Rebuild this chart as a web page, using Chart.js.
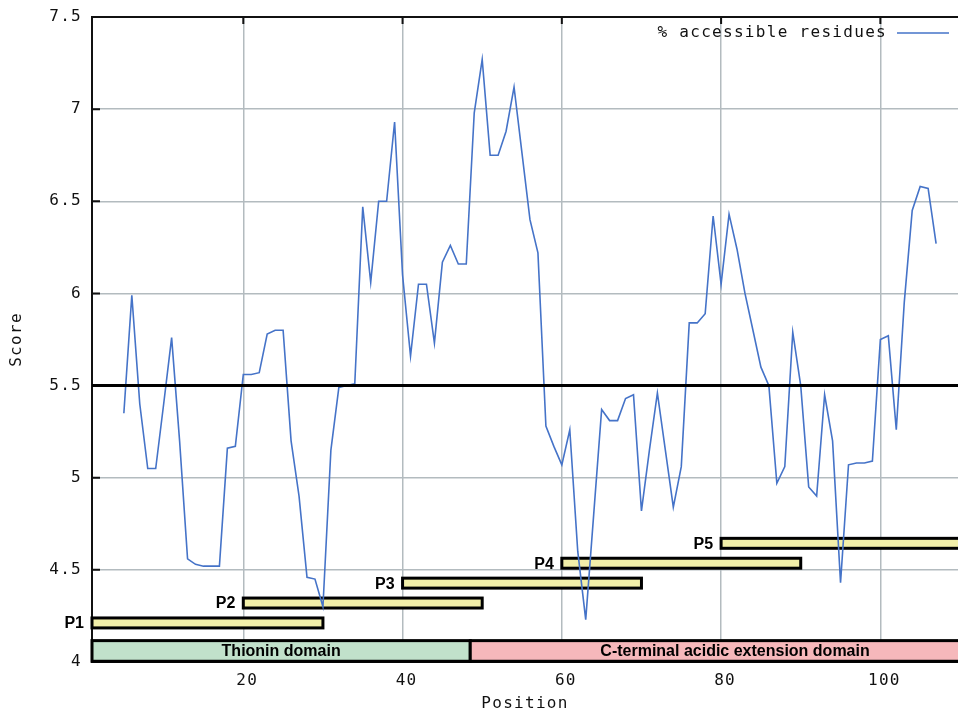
<!DOCTYPE html>
<html>
<head>
<meta charset="utf-8">
<title>% accessible residues</title>
<script src="https://cdn.jsdelivr.net/npm/chart.js@4.4.1/dist/chart.umd.min.js"></script>
<style>
  html, body { margin: 0; padding: 0; background: #fff; overflow: hidden; }
  #wrap { width: 958px; height: 711px; }
</style>
</head>
<body>
<div id="wrap"><canvas id="chart" width="958" height="711"></canvas></div>
<script>
// residue positions and accessibility scores
const POSITIONS = [
  5, 6, 7, 8, 9, 10, 11, 12, 13, 14, 15, 16, 17, 18, 19, 20,
  21, 22, 23, 24, 25, 26, 27, 28, 29, 30, 31, 32, 33, 34, 35, 36,
  37, 38, 39, 40, 41, 42, 43, 44, 45, 46, 47, 48, 49, 50, 51, 52,
  53, 54, 55, 56, 57, 58, 59, 60, 61, 62, 63, 64, 65, 66, 67, 68,
  69, 70, 71, 72, 73, 74, 75, 76, 77, 78, 79, 80, 81, 82, 83, 84,
  85, 86, 87, 88, 89, 90, 91, 92, 93, 94, 95, 96, 97, 98, 99, 100,
  101, 102, 103, 104, 105, 106, 107
];
const SCORES = [
  5.35, 5.99, 5.40, 5.05, 5.05, 5.40, 5.76, 5.20, 4.56, 4.53, 4.52, 4.52, 4.52, 5.16, 5.17, 5.56,
  5.56, 5.57, 5.78, 5.80, 5.80, 5.20, 4.90, 4.46, 4.45, 4.30, 5.15, 5.49, 5.50, 5.51, 6.47, 6.06,
  6.50, 6.50, 6.93, 6.10, 5.66, 6.05, 6.05, 5.73, 6.17, 6.26, 6.16, 6.16, 6.98, 7.27, 6.75, 6.75,
  6.88, 7.12, 6.76, 6.40, 6.22, 5.28, 5.17, 5.07, 5.26, 4.60, 4.23, 4.80, 5.37, 5.31, 5.31, 5.43,
  5.45, 4.82, 5.15, 5.46, 5.15, 4.84, 5.06, 5.84, 5.84, 5.89, 6.42, 6.05, 6.43, 6.24, 6.00, 5.80,
  5.60, 5.50, 4.97, 5.06, 5.79, 5.50, 4.95, 4.90, 5.45, 5.20, 4.43, 5.07, 5.08, 5.08, 5.09, 5.75,
  5.77, 5.26, 5.95, 6.45, 6.58, 6.57, 6.27
];
const SERIES_LABEL = "% accessible residues";
const THRESHOLD = 5.5;

const X_TICKS = [20, 40, 60, 80, 100];
const Y_TICKS = [4, 4.5, 5, 5.5, 6, 6.5, 7, 7.5];

// peptides P1..P5 (start, end residue)
const PEPTIDES = ["P1", "P2", "P3", "P4", "P5"];
const PEP_START = [1, 20, 40, 60, 80];
const PEP_END = [30, 50, 70, 90, 110];

// protein domains
const DOMAINS = ["Thionin domain", "C-terminal acidic extension domain"];
const DOM_START = [1, 48.5];
const DOM_END = [48.5, 115];

// layout / style
const LINE_BLUE = "#4573c8";
const GRID_GREY = "#b3bbbf";
const PEP_FILL = "#f2efa9";
const DOM_FILL = ["#c1e1cb", "#f6b8bb"];
const MONO = '"DejaVu Sans Mono", "Liberation Mono", monospace';
const MONO_SIZE = 16;
const MONO_SPACING = "1.3px";
const PEP_BASE = 4.212, PEP_STEP = 0.108, PEP_HALF = 0.027;
const DOM_LOW = 4.004, DOM_HIGH = 4.116;

const overlay = {
    id: "overlay",
    beforeDraw(chart) {
        chart.ctx.letterSpacing = MONO_SPACING;
    },
    beforeDatasetsDraw(chart) {
        const { ctx, chartArea: a, scales: { x, y } } = chart;

        // frame with inward tick marks
        ctx.save();
        ctx.strokeStyle = "#111";
        ctx.lineWidth = 2;
        ctx.strokeRect(a.left, a.top, a.right - a.left + 4, a.bottom - a.top);
        ctx.beginPath();
        Y_TICKS.forEach(v => {
            const py = y.getPixelForValue(v);
            ctx.moveTo(a.left, py);
            ctx.lineTo(a.left + 8, py);
        });
        X_TICKS.forEach(v => {
            const px = x.getPixelForValue(v);
            ctx.moveTo(px, a.top);
            ctx.lineTo(px, a.top + 7);
        });
        ctx.stroke();
        ctx.restore();

        // bars, clipped at the plot's right edge
        ctx.save();
        ctx.beginPath();
        ctx.rect(a.left - 2, a.top, a.right - a.left + 2, a.bottom - a.top + 2);
        ctx.clip();
        ctx.lineWidth = 3;
        ctx.strokeStyle = "#000";
        PEPTIDES.forEach((name, i) => {
            const lvl = PEP_BASE + i * PEP_STEP;
            const x0 = x.getPixelForValue(PEP_START[i]);
            const x1 = x.getPixelForValue(PEP_END[i]);
            const y0 = y.getPixelForValue(lvl + PEP_HALF);
            const y1 = y.getPixelForValue(lvl - PEP_HALF);
            ctx.fillStyle = PEP_FILL;
            ctx.fillRect(x0, y0, x1 - x0, y1 - y0);
            ctx.strokeRect(x0, y0, x1 - x0, y1 - y0);
        });
        DOMAINS.forEach((name, i) => {
            const x0 = x.getPixelForValue(DOM_START[i]);
            const x1 = x.getPixelForValue(DOM_END[i]);
            const y0 = y.getPixelForValue(DOM_HIGH);
            const y1 = y.getPixelForValue(DOM_LOW);
            ctx.fillStyle = DOM_FILL[i];
            ctx.fillRect(x0, y0, x1 - x0, y1 - y0);
            ctx.strokeRect(x0, y0, x1 - x0, y1 - y0);
        });
        ctx.letterSpacing = "0px";
        ctx.font = 'bold 16px "Liberation Sans", Arial, sans-serif';
        ctx.fillStyle = "#000";
        ctx.textBaseline = "middle";
        ctx.textAlign = "center";
        DOMAINS.forEach((name, i) => {
            const cx = (x.getPixelForValue(DOM_START[i]) + x.getPixelForValue(DOM_END[i])) / 2;
            ctx.fillText(name, cx, y.getPixelForValue((DOM_LOW + DOM_HIGH) / 2) + 1);
        });
        ctx.restore();

        // peptide labels left of their bars
        ctx.save();
        ctx.letterSpacing = "0px";
        ctx.font = 'bold 16px "Liberation Sans", Arial, sans-serif';
        ctx.fillStyle = "#000";
        ctx.textBaseline = "middle";
        ctx.textAlign = "right";
        PEPTIDES.forEach((name, i) => {
            const lvl = PEP_BASE + i * PEP_STEP;
            ctx.fillText(name, x.getPixelForValue(PEP_START[i]) - 8, y.getPixelForValue(lvl) + 1);
        });
        ctx.restore();
    },
    afterDatasetsDraw(chart) {
        const { ctx, chartArea: a, scales: { y } } = chart;
        const ds = chart.data.datasets[0];

        // threshold line
        ctx.save();
        ctx.strokeStyle = "#000";
        ctx.lineWidth = 3;
        const py = y.getPixelForValue(THRESHOLD);
        ctx.beginPath();
        ctx.moveTo(a.left, py);
        ctx.lineTo(a.right, py);
        ctx.stroke();

        // key, top right
        ctx.font = MONO_SIZE + "px " + MONO;
        ctx.letterSpacing = MONO_SPACING;
        ctx.fillStyle = "#111";
        ctx.textAlign = "right";
        ctx.textBaseline = "middle";
        ctx.fillText(ds.label, 887, 33);
        ctx.strokeStyle = ds.borderColor;
        ctx.lineWidth = 1.5;
        ctx.beginPath();
        ctx.moveTo(897, 33);
        ctx.lineTo(949, 33);
        ctx.stroke();
        ctx.restore();
    }
};

const monoFont = { family: MONO, size: MONO_SIZE };

new Chart(document.getElementById("chart"), {
    type: "line",
    data: {
        datasets: [{
            label: SERIES_LABEL,
            data: POSITIONS.map((p, i) => ({ x: p, y: SCORES[i] })),
            borderColor: LINE_BLUE,
            borderWidth: 1.6,
            pointRadius: 0,
            tension: 0,
            fill: false,
        }],
    },
    options: {
        responsive: false,
        animation: false,
        layout: { padding: { top: 17, left: 0, right: 0, bottom: 0 } },
        plugins: {
            legend: { display: false },
            tooltip: { enabled: false },
        },
        scales: {
            x: {
                type: "linear",
                min: 1,
                max: 109.75,
                afterBuildTicks: s => { s.ticks = X_TICKS.map(v => ({ value: v })); },
                afterFit: s => { s.height = 49; s.paddingLeft = 0; s.paddingRight = 0; },
                grid: { color: GRID_GREY, lineWidth: 1.5, drawTicks: false },
                border: { display: false },
                ticks: { font: monoFont, color: "#111", padding: 9, labelOffset: 4, maxRotation: 0 },
                title: {
                    display: true, text: "Position", color: "#111",
                    font: { family: MONO, size: MONO_SIZE, lineHeight: 1 },
                    padding: { top: 0, bottom: -1 },
                },
            },
            y: {
                min: 4,
                max: 7.5,
                afterBuildTicks: s => { s.ticks = Y_TICKS.map(v => ({ value: v })); },
                afterFit: s => { s.width = 92; s.paddingTop = 0; s.paddingBottom = 0; },
                grid: { color: GRID_GREY, lineWidth: 1.5, drawTicks: false },
                border: { display: false },
                ticks: { font: monoFont, color: "#111", padding: 10, callback: v => String(v) },
                title: {
                    display: true, text: "Score", color: "#111",
                    font: { family: MONO, size: MONO_SIZE, lineHeight: 1 },
                    padding: { top: 9, bottom: 0 },
                },
            },
        },
    },
    plugins: [overlay],
});
</script>
</body>
</html>
